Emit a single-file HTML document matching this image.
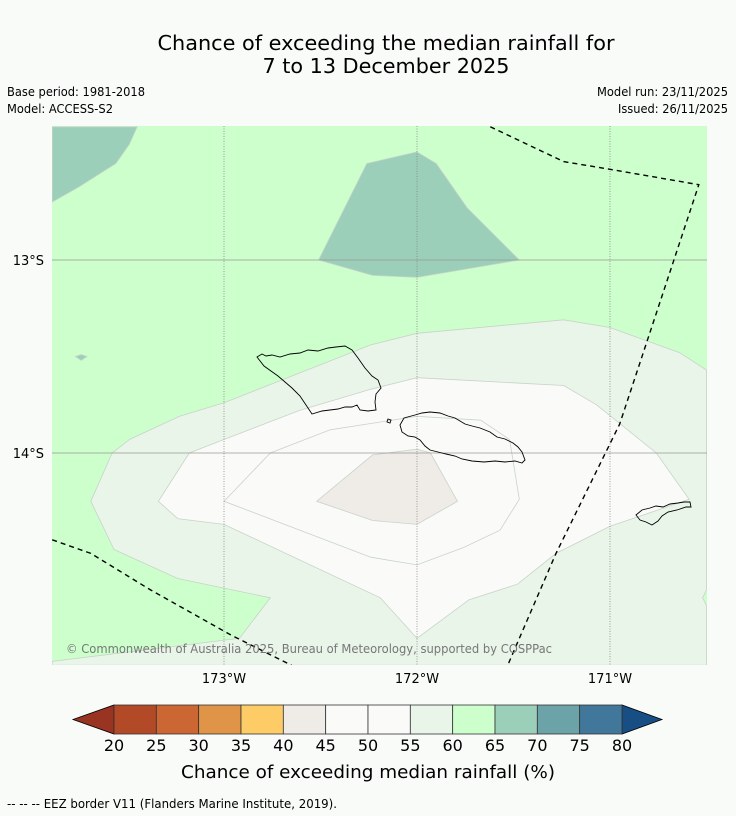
<!DOCTYPE html>
<html><head><meta charset="utf-8"><style>
html,body{margin:0;padding:0;background:#f9fbf9;}
svg{display:block;font-family:"DejaVu Sans","Liberation Sans",sans-serif;}
</style></head><body>
<svg id="fig" width="736" height="816" viewBox="0 0 736 816" xmlns="http://www.w3.org/2000/svg">
<rect width="736" height="816" fill="#f9fbf9"/>
<text x="386" y="50" text-anchor="middle" font-size="20" textLength="457" lengthAdjust="spacingAndGlyphs" fill="#000">Chance of exceeding the median rainfall for</text>
<text x="386" y="73" text-anchor="middle" font-size="20" textLength="247" lengthAdjust="spacingAndGlyphs" fill="#000">7 to 13 December 2025</text>
<text x="7" y="96" font-size="12" textLength="138" lengthAdjust="spacingAndGlyphs">Base period: 1981-2018</text>
<text x="7" y="113" font-size="12" textLength="106" lengthAdjust="spacingAndGlyphs">Model: ACCESS-S2</text>
<text x="728" y="96" font-size="12" text-anchor="end" textLength="131" lengthAdjust="spacingAndGlyphs">Model run: 23/11/2025</text>
<text x="728" y="113" font-size="12" text-anchor="end" textLength="110" lengthAdjust="spacingAndGlyphs">Issued: 26/11/2025</text>
<defs><clipPath id="mapclip"><rect x="52" y="126" width="655" height="539"/></clipPath></defs>
<g id="map" clip-path="url(#mapclip)"></g>
<g id="axes"></g>
<g id="cbar"></g>
<text x="368" y="778" text-anchor="middle" font-size="18" textLength="374" lengthAdjust="spacingAndGlyphs">Chance of exceeding median rainfall (%)</text>
<text x="7" y="808" font-size="12" textLength="330" lengthAdjust="spacingAndGlyphs">--  --  -- EEZ border V11 (Flanders Marine Institute, 2019).</text>
</svg>
<script>
// Map extent / axis
const lonTicks = [-173, -172, -171];
const latTicks = [-13, -14];
const lonTickLabels = ["173°W", "172°W", "171°W"];
const latTickLabels = ["13°S", "14°S"];
// Contour regions (lon,lat) with probability class
const teal1 = [[-173.89,-12.31],[-173.45,-12.31],[-173.49,-12.40],[-173.56,-12.50],[-173.75,-12.62],[-173.89,-12.70]];
const teal2 = [[-172.26,-12.50],[-172.00,-12.44],[-171.90,-12.50],[-171.74,-12.73],[-171.47,-13.00],[-172.00,-13.09],[-172.23,-13.08],[-172.51,-13.00]];
const teal3 = [[-173.77,-13.50],[-173.74,-13.49],[-173.71,-13.50],[-173.74,-13.52]];
const band55 = [[-170.50,-13.57],[-170.64,-13.48],[-171.00,-13.35],[-171.24,-13.31],[-172.00,-13.38],[-172.24,-13.44],[-173.00,-13.74],[-173.23,-13.81],[-173.49,-13.93],[-173.58,-14.00],[-173.69,-14.25],[-173.57,-14.50],[-173.24,-14.65],[-172.76,-14.75],[-172.92,-14.96],[-173.89,-15.08],[-173.89,-15.10],[-170.50,-15.10],[-170.50,-14.79],[-170.52,-14.75],[-170.50,-14.71]];
const band50 = [[-172.00,-13.61],[-171.24,-13.65],[-171.07,-13.75],[-170.76,-14.00],[-170.59,-14.24],[-171.00,-14.38],[-171.28,-14.52],[-171.48,-14.68],[-171.73,-14.76],[-172.00,-14.96],[-172.19,-14.75],[-173.00,-14.37],[-173.24,-14.34],[-173.34,-14.25],[-173.18,-14.00],[-173.00,-13.93],[-172.61,-13.78],[-172.24,-13.67]];
const band45 = [[-172.00,-13.81],[-171.67,-13.83],[-171.52,-13.93],[-171.47,-14.24],[-171.57,-14.40],[-171.76,-14.49],[-172.00,-14.58],[-172.24,-14.54],[-173.00,-14.25],[-172.76,-14.00],[-172.45,-13.88]];
const band40 = [[-172.23,-14.01],[-172.00,-13.98],[-171.93,-14.00],[-171.79,-14.25],[-172.00,-14.37],[-172.23,-14.35],[-172.52,-14.25]];
const eez1 = [[-171.62,-12.31],[-171.24,-12.49],[-171.00,-12.53],[-170.54,-12.61],[-170.95,-13.85],[-171.28,-14.52],[-171.53,-15.10]];
const eez2 = [[-173.89,-14.45],[-173.69,-14.52],[-173.38,-14.71],[-172.97,-14.94],[-172.65,-15.10]];
// Colorbar
const levels = [20,25,30,35,40,45,50,55,60,65,70,75,80];
const binColors = ["#b34a27","#cc6633","#e09447","#fdcc66","#efebe7","#fafbf9","#fafbf9","#e8f5e8","#ccffcc","#9bcfb9","#6ba3a8","#41779a"];
const underColor = "#993322";
const overColor = "#174f85";

const NS = "http://www.w3.org/2000/svg";
function X(lon){ return 224 + (lon + 173) * 193; }
function Y(lat){ return 260 + (-13 - lat) * 193; }
function mk(tag, attrs, parent){ const e=document.createElementNS(NS,tag); for(const k in attrs) e.setAttribute(k,attrs[k]); parent.appendChild(e); return e; }
function pts(arr){ return arr.map(p=>X(p[0]).toFixed(1)+","+Y(p[1]).toFixed(1)).join(" "); }

const map = document.getElementById("map");
let el = mk("rect",{x:52,y:126,width:655,height:539,fill:"#ccffcc"},map);


const regions = [[band55,"#e8f5e8","contour-55-60"],[band50,"#fafbf9","contour-50-55"],[band45,"#fafbf9","contour-45-50"],[band40,"#efebe7","contour-40-45"],[teal1,"#9bcfb9","contour-65-70-northwest"],[teal2,"#9bcfb9","contour-65-70-north"],[teal3,"#9bcfb9","contour-65-70-small"]];
regions.forEach(r=>{
  const p = mk("polygon",{points:pts(r[0]),fill:r[1],stroke:"#c9d3c9","stroke-width":0.8},map);
  
  
});
// grid lines
lonTicks.forEach(l=>{
  const g = mk("line",{x1:X(l),x2:X(l),y1:126,y2:665,stroke:"#888","stroke-width":0.8,"stroke-dasharray":"1,1.5"},map);
  
  
});
latTicks.forEach(l=>{
  const g = mk("line",{x1:52,x2:707,y1:Y(l),y2:Y(l),stroke:"#999","stroke-width":0.8},map);
  
  
});
// islands
const islands = [
 ["savaii-island","M257,357 L262,354 266,356 272,355 280,357 290,354 300,353 308,350 318,351 328,348 336,347 345,346 352,350 358,358 365,368 372,376 378,380 381,388 376,394 375,402 376,410 368,411 360,410 357,405 352,407 345,407 338,409 330,410 322,411 312,414 306,405 300,396 292,388 285,382 278,376 264,366 Z"],
 ["upolu-island","M400,425 L404,418 415,415 422,413 430,412 440,413 448,416 455,418 465,424 472,426 480,428 490,432 497,437 505,439 513,443 518,447 522,452 525,460 522,463 515,461 505,462 495,461 484,462 472,461 462,459 455,456 446,454 438,452 430,450 425,446 420,440 415,437 408,436 402,432 Z"],
 ["manono-islet","M388,419 L391,420 390,423 387,422 Z"],
 ["tutuila-island","M636,515 L642,510 650,508 656,506 663,507 670,504 678,503 684,502 690,502 691,507 686,507 677,510 668,512 662,516 658,521 652,525 646,522 640,520 Z"]
];
islands.forEach(i=>{
  const p = mk("path",{d:i[1],fill:"none",stroke:"#000","stroke-width":0.9},map);
  
  
});
[eez1,eez2].forEach((e,i)=>{
  const p = mk("polyline",{points:pts(e),fill:"none",stroke:"#000","stroke-width":1.4,"stroke-dasharray":"5,4"},map);
  
  
});
const cr = mk("text",{x:66,y:653,"font-size":12,fill:"#777",textLength:486,lengthAdjust:"spacingAndGlyphs"},map);
cr.textContent = "© Commonwealth of Australia 2025, Bureau of Meteorology, supported by COSPPac";



// axis labels
const axes = document.getElementById("axes");
lonTicks.forEach((l,i)=>{
  const t = mk("text",{x:X(l),y:683,"text-anchor":"middle","font-size":13},axes);
  t.textContent = lonTickLabels[i];
  
  
});
latTicks.forEach((l,i)=>{
  const t = mk("text",{x:44,y:Y(l)+5,"text-anchor":"end","font-size":13},axes);
  t.textContent = latTickLabels[i];
  
  
});

// colorbar
const cb = document.getElementById("cbar");
const cbX0=114, cbX1=622, cbY0=705, cbY1=734;
function CX(v){ return cbX0 + (v-levels[0])/(levels[levels.length-1]-levels[0])*(cbX1-cbX0); }
let tri = mk("polygon",{points:`${cbX0},${cbY0} ${cbX0},${cbY1} 73,${(cbY0+cbY1)/2}`,fill:underColor,stroke:"#000","stroke-width":0.8},cb);


tri = mk("polygon",{points:`${cbX1},${cbY0} ${cbX1},${cbY1} 662,${(cbY0+cbY1)/2}`,fill:overColor,stroke:"#000","stroke-width":0.8},cb);


for(let i=0;i<binColors.length;i++){
  const r = mk("rect",{x:CX(levels[i]),y:cbY0,width:CX(levels[i+1])-CX(levels[i]),height:cbY1-cbY0,fill:binColors[i],stroke:"#333","stroke-width":0.8},cb);
  
  
}
levels.forEach(v=>{
  const t = mk("text",{x:CX(v),y:751,"text-anchor":"middle","font-size":16},cb);
  t.textContent = String(v);
  
  
});
</script>
</body></html>
